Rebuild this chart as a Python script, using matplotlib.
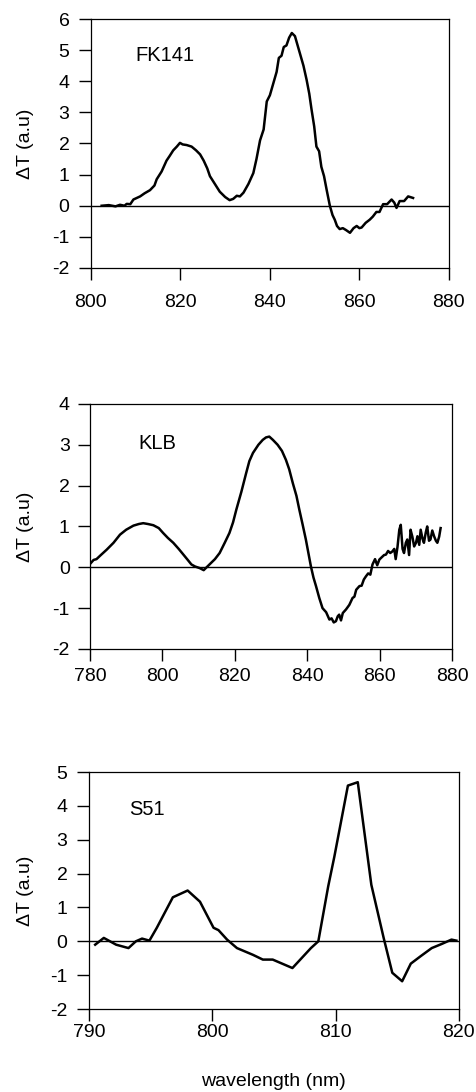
import matplotlib
matplotlib.use("Agg")
import matplotlib.pyplot as plt

plt.rcParams['font.family'] = ['Liberation Sans', 'DejaVu Sans']
plt.rcParams['axes.unicode_minus'] = False

# ---- data ----
fk_wl = [802.4, 804, 805.5, 806.5, 807.5, 808, 808.8, 809.5, 811, 812, 813.2, 814.2, 814.7,
         815.8, 816.9, 817.6, 818.4, 819.2, 819.9, 820.5, 821.4, 822.5, 823.5, 824.4, 825.2,
         826.0, 826.6, 827.7, 828.8, 830.0, 831.0, 831.8, 832.6, 833.3, 834.1, 835.2, 836.3,
         837.0, 837.8, 838.6, 839.3, 840.0, 840.8, 841.5, 842.0, 842.6, 843.1, 843.7, 844.3,
         844.9, 845.6, 846.7, 847.5, 848.2, 848.8, 849.3, 849.9, 850.4, 851.0, 851.5, 852.1,
         852.7, 853.4, 854.0, 854.5, 855.0, 855.6, 856.3, 857.0, 857.9, 858.7, 859.4, 860.0,
         860.5, 861.4, 862.3, 863.0, 863.8, 864.5, 865.3, 866.2, 867.2, 867.8, 868.3, 869.0,
         870.0, 870.9, 872.0]
fk_dt = [0.0, 0.02, -0.02, 0.03, 0.0, 0.06, 0.05, 0.2, 0.3, 0.4, 0.5, 0.65, 0.85,
         1.1, 1.45, 1.6, 1.78, 1.9, 2.02, 1.97, 1.95, 1.9, 1.78, 1.65, 1.45,
         1.2, 0.95, 0.7, 0.45, 0.28, 0.18, 0.22, 0.32, 0.3, 0.42, 0.7, 1.05,
         1.5, 2.1, 2.45, 3.35, 3.55, 3.95, 4.3, 4.75, 4.82, 5.1, 5.15, 5.4,
         5.55, 5.45, 4.9, 4.5, 4.05, 3.6, 3.1, 2.55, 1.9, 1.75, 1.25, 0.95,
         0.5, 0.0, -0.3, -0.45, -0.65, -0.75, -0.72, -0.78, -0.87, -0.72, -0.65, -0.72,
         -0.7, -0.55, -0.45, -0.35, -0.2, -0.2, 0.05, 0.05, 0.2, 0.1, -0.07, 0.15,
         0.15, 0.3, 0.25]

klb_wl = [780.2, 781.0, 781.8, 783.0, 784.6, 786.5, 788.3, 790.0, 792.0, 793.5, 794.7, 796.0,
          797.5, 799.0, 800.2, 801.5, 803.0, 804.5, 805.8, 807.0, 808.0, 809.0, 810.3,
          811.4, 812.2, 813.0, 814.5, 815.8, 817.2, 818.5, 819.5, 820.4, 821.8, 823.1,
          824.0, 825.0, 826.5, 827.7, 828.6, 829.5, 830.5, 831.8, 833.0, 834.1, 835.0,
          836.0, 837.0, 837.8, 838.7, 839.6, 840.3, 841.0, 841.7, 842.4, 843.3, 844.2,
          845.2, 846.1, 846.7, 847.3, 847.9, 848.4, 848.8, 849.3, 849.8, 850.7, 851.6,
          852.5, 853.0, 853.5, 854.4, 855.0, 855.6, 856.2, 856.8, 857.4, 858.0, 858.7,
          859.3, 859.9, 860.6, 861.2, 861.7, 862.3, 862.9, 863.5, 864.0, 864.4, 864.9,
          865.4, 865.8, 866.3, 866.7, 867.2, 867.6, 868.1, 868.5, 869.0, 869.5, 870.0,
          870.4, 870.9, 871.3, 871.8, 872.2, 872.7, 873.1, 873.6, 874.0, 874.5, 875.0,
          875.5, 875.9, 876.4, 876.8]
klb_dt = [0.1, 0.18, 0.2, 0.3, 0.43, 0.6, 0.8, 0.92, 1.02, 1.06, 1.08, 1.06,
          1.03, 0.96, 0.84, 0.72, 0.6, 0.45, 0.31, 0.18, 0.07, 0.02, -0.02,
          -0.07, 0.0, 0.07, 0.2, 0.35, 0.6, 0.84, 1.1, 1.41, 1.85, 2.3,
          2.6, 2.8, 3.0, 3.12, 3.18, 3.2, 3.12, 3.0, 2.85, 2.63, 2.4,
          2.06, 1.75, 1.41, 1.05, 0.68, 0.35, 0.02, -0.25, -0.46, -0.75, -1.0,
          -1.1, -1.28, -1.25, -1.35, -1.32, -1.2, -1.16, -1.3, -1.12, -1.03, -0.92,
          -0.75, -0.72, -0.55, -0.46, -0.45, -0.3, -0.22, -0.15, -0.18, 0.07, 0.2,
          0.05, 0.19, 0.25, 0.3, 0.31, 0.4, 0.35, 0.39, 0.45, 0.2, 0.5,
          0.92, 1.04, 0.45, 0.35, 0.6, 0.68, 0.3, 0.92, 0.75, 0.51, 0.6,
          0.76, 0.55, 0.92, 0.7, 0.6, 0.85, 1.0, 0.65, 0.68, 0.9, 0.76,
          0.65, 0.6, 0.75, 0.96]

s51_wl = [790.5, 791.2, 791.7, 792.2, 793.2, 793.8, 794.3, 794.9, 795.5, 796.8, 798.0,
          799.0, 800.1, 800.5, 801.2, 802.0, 803.3, 804.1, 804.9, 806.5, 808.0, 808.6,
          809.4, 809.9, 811.0, 811.8, 812.9, 813.9, 814.6, 815.4, 816.1, 816.9, 817.8,
          818.6, 819.4, 819.8]
s51_dt = [-0.1, 0.1, 0.0, -0.1, -0.2, 0.0, 0.08, 0.02, 0.4, 1.3, 1.5,
          1.17, 0.4, 0.33, 0.05, -0.2, -0.4, -0.54, -0.54, -0.79, -0.2, 0.0,
          1.62, 2.5, 4.6, 4.7, 1.67, 0.1, -0.93, -1.18, -0.66, -0.44, -0.2,
          -0.08, 0.05, 0.02]

panels = [
    dict(x=fk_wl, y=fk_dt, name="FK141", xlim=(800, 880), xticks=[800, 820, 840, 860, 880],
         ylim=(-2, 6), yticks=list(range(-2, 7)), rect=[0.191, 0.7546, 0.752, 0.228],
         txt=(0.123, 0.855), xpad=10, ypad=7),
    dict(x=klb_wl, y=klb_dt, name="KLB", xlim=(780, 880), xticks=[780, 800, 820, 840, 860, 880],
         ylim=(-2, 4), yticks=list(range(-2, 5)), rect=[0.189, 0.4057, 0.761, 0.2244],
         txt=(0.133, 0.84), xpad=5, ypad=6),
    dict(x=s51_wl, y=s51_dt, name="S51", xlim=(790, 820), xticks=[790, 800, 810, 820],
         ylim=(-2, 5), yticks=list(range(-2, 6)), rect=[0.187, 0.076, 0.777, 0.217],
         txt=(0.108, 0.84), xpad=2, ypad=7),
]

fig = plt.figure(figsize=(4.76, 10.92), dpi=100)
for p in panels:
    ax = fig.add_axes(p["rect"])
    ax.plot(p["x"], p["y"], color="black", lw=1.8)
    ax.axhline(0, color="black", lw=1.0)
    ax.set_xlim(*p["xlim"])
    ax.set_ylim(*p["ylim"])
    ax.set_xticks(p["xticks"])
    ax.set_yticks(p["yticks"])
    ax.tick_params(direction="out", length=8.5, width=1.0, labelsize=14,
                   top=False, right=False)
    ax.tick_params(axis="x", pad=p["xpad"])
    ax.tick_params(axis="y", pad=p["ypad"])
    for s in ax.spines.values():
        s.set_linewidth(0.9)
    ax.text(p["txt"][0], p["txt"][1], p["name"], transform=ax.transAxes,
            fontsize=14.5, ha="left", va="center")
    r = p["rect"]
    fig.text(25 / 476, r[1] + r[3] / 2, "\u0394T (a.u)", rotation=90,
             ha="center", va="center", fontsize=14)

fig.text(273 / 476, 1 - 1081 / 1092, "wavelength (nm)", ha="center", va="center",
         fontsize=14)

fig.savefig("out.png", dpi=100)
